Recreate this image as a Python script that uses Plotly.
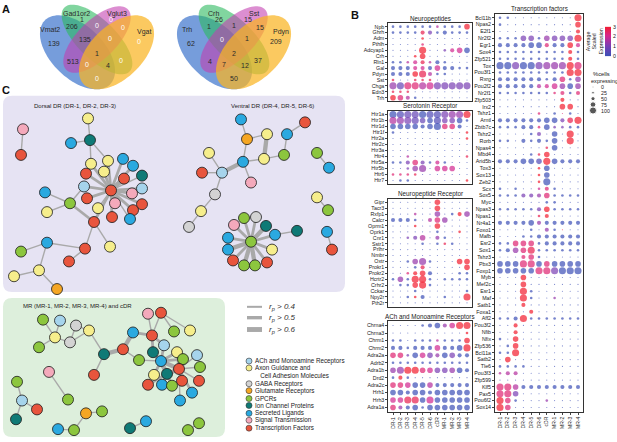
import numpy as np
import plotly.graph_objects as go

W, H = 617, 442
FONT = "Liberation Sans"

# ---------------- DATA ----------------
# Panel A: Venn counts (regions in order below)
venn_regions = ["A", "B", "C", "D", "AB", "CD", "BC", "ABC", "BCD", "ABCD", "AC", "ACD", "ABD", "BD", "AD"]
venn_left_sets = ["Vmat2", "Gad1or2", "Vglut3", "Vgat"]
venn_left_counts = [139, 1, 0, 0, 206, 0, 0, 135, 0, 1, 513, 0, 4, 0, 0]
venn_right_sets = ["Trh", "Crh", "Sst", "Pdyn"]
venn_right_counts = [62, 26, 15, 209, 1, 15, 1, 0, 1, 2, 4, 7, 12, 37, 50]

# Panel B: dot plots. pct digit 0-4 -> 0,25,50,75,100 %cells ; expr digit 0-9 -> 0..3 scaled expression
columns = ["DR-1", "DR-2", "DR-3", "DR-4", "DR-5", "DR-6", "cDR", "MR-1", "MR-2", "MR-3", "MR-4"]

neuropeptide_genes = ["Npb", "Ghrh", "Adm", "Pthlh", "Adcyap1", "Crh", "Rln1", "Gal", "Pdyn", "Sst", "Chga", "Edn3", "Trh"]
neuropeptide_pct = ["11111111113", "11112212111", "00001000000", "00001000000", "00004001233", "00013000000",
                    "11122121000", "22222232211", "22234211000", "10011100000", "44444444444", "11100000000",
                    "33210000000"]
neuropeptide_expr = ["00000050009", "00008300000", "00009000000", "00007000000", "00009003660", "00099000000",
                     "00568500000", "00066060000", "00098500000", "80088800000", "42775633333", "88800000000",
                     "97500000000"]

serotonin_genes = ["Htr1a", "Htr1b", "Htr1d", "Htr1f", "Htr2a", "Htr2c", "Htr3a", "Htr4", "Htr5a", "Htr5b", "Htr6", "Htr7"]
serotonin_pct = ["44444444444", "44443343331", "33332343320", "10000000001", "00000000001", "00000000000",
                 "00000000000", "00100000001", "11232121000", "00134033300", "11110000000", "01100000001"]
serotonin_expr = ["01220113449", "54322013300", "00000007700", "00000000009", "00000000009", "00000000000",
                  "00000000000", "00500000008", "00373060000", "00344066600", "77780000000", "00000000009"]

npr_genes = ["Gipr", "Tacr3", "Rxfp1", "Calcr", "Oprm1", "Oprk1", "Cnr1", "Sstr1", "Prlhr", "Nmbr", "Oxtr",
             "Prokr1", "Prokr2", "Hcrtr2", "Crhr2", "Cckar", "Npy2r", "Pth2r"]
npr_pct = ["00000030000", "00000030000", "00010030123", "22210233000", "00010030000", "00000010010",
           "00123021000", "00001011100", "00000000000", "00000000000", "00134100033", "00012000003",
           "00123200011", "13144101111", "01134100000", "00010000001", "00112001004", "00000000000"]
npr_expr = ["00000090000", "00000090000", "00050040094", "00000574000", "00090090000", "00000000090",
            "00335040000", "00000008000", "00000000000", "00000000000", "00044000099", "00008000009",
            "00799000000", "04099000000", "00099000000", "00000000000", "00090000009", "00000000000"]

ach_genes = ["Chrna4", "Chrna3", "Chrm1", "Chrm2", "Adra2a", "Adrb2", "Adra1b", "Drd2", "Adra2c", "Hrh1", "Hrh3", "Adra1a"]
ach_pct = ["00001232344", "00000000001", "11011111113", "22122232234", "33133323322", "11111111111",
           "34443333332", "12100000000", "33333322222", "33233233333", "33443433333", "32231333333"]
ach_expr = ["00000004699", "00000000009", "00000050009", "00000060009", "77306340300", "00000000000",
            "44997633400", "09000000000", "77600500000", "00000000000", "66880600000", "74000000000"]

tf_genes = ["Bcl11b", "Npas2", "E2f1", "Nr2f2", "Egr1", "Sox4", "Zfp521", "Tox", "Pou3f1", "Rxrg", "Pou2f2",
            "Nr2f1", "Zfp503", "Irx2", "Tshz1", "Arntl", "Zbtb7c", "Tshz2", "Rorb", "Npas4", "Mbd4", "Arid5b",
            "Tox3", "Sox13", "Zeb2", "Scx", "Sox5", "Myc", "Npas3", "Npas1", "Nr4a1", "Foxo1", "Mafb", "Esr2",
            "Sox1", "Tshz3", "Pbx3", "Foxp1", "Myb", "Mef2c", "Esr1", "Maf", "Satb1", "Foxa1", "Aff2", "Pou3f2",
            "Nfib", "Nfix", "Zfp536", "Bcl11a", "Satb2", "Tle6", "Pou3f3", "Zfp599", "Klf5", "Pax5", "Pou6f2", "Sox14"]
tf_pct = ["11000000004", "10000000003", "00000000002", "11133133334", "22223322232", "11111111121",
          "11111111121", "44444444444", "11111111144", "22222212313", "22222223333", "11111111212",
          "00000000200", "00000000330", "00000101010", "22222233234", "11122131111", "00001203040",
          "11021213040", "00000013000", "00001130000", "22233343222", "00000130000", "00000130000",
          "00000140000", "10100121000", "11122231111", "00000011000", "11111231111", "00000120000",
          "22223222222", "00001021000", "00011222222", "11333122222", "12334111111", "00023100000",
          "33344333333", "33333444444", "00030000000", "00030000000", "00041000000", "00041001000",
          "00020000000", "00002000000", "11241111111", "00200000000", "00200000000", "10300000000",
          "01300000000", "11400000000", "03000000000", "11110000000", "12200000000", "00000000000",
          "44322222222", "44300000000", "43100010000", "43000000000"]
tf_expr = ["00000000009", "00000000009", "00000000009", "00033043339", "00000070096", "00000000090",
           "00000000090", "00300344497", "00000000099", "00000000704", "00000566404", "00000007707",
           "00000000900", "00000000990", "00000700700", "00000000389", "00000703300", "00000300090",
           "00000000090", "00000080000", "00000890000", "00000190000", "00000900000", "00000900000",
           "00000900000", "00000670000", "00033470000", "00000000000", "00000390000", "00000890000",
           "00000400000", "00000040900", "00000000000", "00777000000", "00478000000", "00077000000",
           "00077070000", "00000773000", "00090000000", "00090000000", "00090000000", "00090004000",
           "00090000000", "00009000000", "00090000000", "00900000000", "00900000000", "00900000000",
           "00900000000", "00900000000", "09000000000", "00000000000", "55500000000", "00000000000",
           "77500000000", "77300000000", "97000040000", "97000000000"]

size_legend_values = [0, 25, 50, 75, 100]
colorbar_ticks = [0, 1, 2, 3]

# Panel C: category legend
categories = ["ACh and Monoamine Receptors", "Axon Guidance and<br>   Cell Adhesion Molecules", "GABA Receptors",
              "Glutamate Receptors", "GPCRs", "Ion Channel Proteins", "Secreted Ligands",
              "Signal Transmission", "Transcription Factors"]
category_keys = ["ach", "axon", "gaba", "glu", "gpcr", "ion", "sec", "sig", "tf"]
rp_labels = ["<i>r<sub>p</sub> > 0.4</i>", "<i>r<sub>p</sub> > 0.5</i>", "<i>r<sub>p</sub> > 0.6</i>"]

# Network layouts (node positions from layout, category, edges (i, j, correlation class 1..3))
dorsal_x = [23, 21, 88, 90, 71, 91, 108, 104, 123, 133, 142, 86, 84, 124, 111, 142, 132, 87, 115, 142, 133, 98,
            112, 130, 94, 70, 45, 47, 110, 85, 47, 21, 69, 14, 39, 57]
dorsal_y = [128, 154, 117, 139, 142, 163, 160, 171, 158, 165, 175, 173, 186, 178, 190, 188, 193, 198, 203, 204,
            210, 208, 217, 219, 222, 203, 192, 212, 247, 249, 243, 252, 262, 277, 271, 290]
dorsal_cat = ["sig", "tf", "axon", "ion", "sec", "axon", "axon", "axon", "sec", "sec", "ion", "tf", "ach", "tf",
              "tf", "ach", "sig", "tf", "sig", "tf", "tf", "axon", "tf", "sec", "tf", "gpcr", "sec", "axon",
              "axon", "tf", "sec", "gpcr", "tf", "axon", "axon", "glu"]
dorsal_edges = [(0, 1, 1), (2, 3, 1), (3, 4, 1), (3, 5, 1), (3, 6, 1), (5, 14, 2), (6, 14, 2), (7, 14, 2),
                (8, 14, 2), (9, 14, 2), (10, 14, 1), (11, 14, 2), (12, 14, 2), (13, 14, 3), (15, 14, 2),
                (16, 14, 2), (17, 14, 2), (18, 14, 3), (19, 14, 2), (20, 14, 2), (21, 14, 1), (22, 14, 2),
                (23, 14, 1), (24, 14, 2), (12, 25, 1), (25, 26, 1), (25, 27, 1), (25, 24, 2), (24, 28, 1),
                (24, 29, 1), (30, 29, 1), (30, 31, 1), (30, 34, 1), (34, 33, 1), (34, 35, 1), (29, 32, 1)]

ventral_x = [241, 247, 267, 264, 284, 243, 222, 202, 209, 251, 215, 201, 189, 305, 287, 317, 329, 317, 328, 297,
             327, 332, 251, 244, 256, 266, 234, 228, 228, 233, 272, 275, 244, 255, 267]
ventral_y = [118, 138, 133, 158, 154, 161, 172, 172, 152, 182, 194, 211, 227, 121, 133, 152, 167, 197, 210, 231,
             232, 250, 242, 218, 217, 226, 225, 238, 250, 261, 250, 235, 266, 266, 263]
ventral_cat = ["sec", "glu", "axon", "axon", "gpcr", "sec", "ach", "tf", "axon", "sig", "gaba", "axon", "gaba",
               "tf", "sec", "gpcr", "sec", "axon", "gpcr", "ion", "sec", "tf", "gpcr", "gpcr", "gaba", "ion",
               "sig", "sec", "sec", "tf", "axon", "sec", "gpcr", "gpcr", "tf"]
ventral_edges = [(0, 1, 1), (1, 2, 1), (2, 3, 3), (3, 4, 1), (1, 5, 1), (5, 3, 1), (5, 6, 3), (6, 7, 1),
                 (6, 8, 1), (5, 9, 1), (6, 10, 1), (10, 11, 1), (11, 12, 1), (13, 14, 1), (14, 4, 1),
                 (15, 16, 1), (17, 18, 1), (20, 21, 1), (19, 31, 1), (22, 23, 2), (22, 24, 2), (22, 25, 3),
                 (22, 26, 2), (22, 27, 2), (22, 28, 3), (22, 29, 2), (22, 30, 2), (22, 31, 2), (22, 32, 3),
                 (22, 33, 3), (22, 34, 2)]

mr_x = [43, 60, 76, 55, 70, 89, 39, 104, 94, 123, 133, 152, 148, 161, 174, 190, 153, 164, 177, 197, 139, 161,
        183, 200, 179, 154, 167, 182, 199, 148, 162, 172, 192, 180, 49, 68, 17, 22, 16, 37, 86, 102, 74, 58,
        130, 146, 199, 188]
mr_y = [321, 322, 327, 339, 344, 332, 349, 356, 377, 351, 334, 337, 315, 314, 333, 332, 354, 347, 354, 357, 362,
        363, 361, 369, 371, 377, 376, 383, 383, 387, 387, 388, 395, 403, 374, 402, 384, 403, 422, 412, 416, 414,
        433, 432, 431, 424, 426, 433]
mr_cat = ["gpcr", "ach", "gaba", "axon", "gaba", "axon", "gpcr", "ion", "tf", "tf", "sec", "tf", "sig", "tf",
          "gpcr", "axon", "ion", "ach", "axon", "ach", "gpcr", "sec", "gpcr", "gpcr", "tf", "axon", "ion", "tf",
          "tf", "tf", "sec", "gpcr", "sec", "sec", "sig", "gpcr", "gpcr", "ach", "ion", "tf", "glu", "gpcr",
          "gpcr", "sec", "ion", "sec", "gpcr", "gpcr"]
mr_edges = [(0, 3, 1), (1, 3, 1), (2, 4, 1), (3, 4, 1), (4, 5, 1), (2, 5, 1), (3, 6, 1), (5, 7, 1), (7, 8, 1),
            (7, 9, 3), (9, 10, 3), (9, 20, 1), (10, 11, 2), (11, 12, 1), (11, 13, 1), (11, 16, 2), (11, 17, 2),
            (13, 14, 1), (13, 15, 1), (16, 21, 2), (17, 21, 2), (18, 21, 2), (19, 24, 1), (20, 21, 1),
            (21, 22, 2), (21, 24, 3), (21, 25, 2), (21, 26, 3), (24, 26, 3), (24, 27, 2), (24, 28, 1),
            (24, 23, 1), (26, 29, 2), (26, 30, 2), (26, 31, 2), (24, 32, 2), (24, 33, 1), (16, 26, 2),
            (22, 24, 1), (18, 24, 2), (34, 35, 1), (36, 37, 1), (37, 38, 1), (37, 39, 1), (40, 41, 1),
            (40, 42, 1), (42, 43, 1), (44, 45, 1), (46, 47, 1)]

# ---------------- STYLE ----------------
cat_colors = {"ach": "#a6d4ec", "axon": "#f6ee8c", "gaba": "#d3d3d3", "glu": "#f5a623", "gpcr": "#8cc63e",
              "ion": "#0f7a76", "sec": "#2aa9e0", "sig": "#f4a9bb", "tf": "#e8553d"}
edge_widths = {1: 1.4, 2: 2.8, 3: 4.3}
expr_colorscale = [[0.0, "#3c4fb6"], [0.35, "#7c3db4"], [0.68, "#d5258d"], [1.0, "#f21d2e"]]
venn_fills = ["rgba(45,105,200,0.65)", "rgba(45,185,95,0.6)", "rgba(195,60,175,0.58)", "rgba(250,180,35,0.72)"]


def pct_to_px(p):
    return 1.1 + p / 100 * 6.0


fig = go.Figure()
shapes, annotations = [], []


def ov_text(x, y, text, size=6, color="#222", **kw):
    d = dict(x=x, y=y, xref="x", yref="y", text=text, showarrow=False,
             font=dict(size=size, color=color, family=FONT))
    d.update(kw)
    annotations.append(d)


# ---------- Panel C backgrounds ----------
def rrect(x0, y0, x1, y1, r):
    return (f"M {x0 + r},{y0} L {x1 - r},{y0} Q {x1},{y0} {x1},{y0 + r} L {x1},{y1 - r} Q {x1},{y1} {x1 - r},{y1} "
            f"L {x0 + r},{y1} Q {x0},{y1} {x0},{y1 - r} L {x0},{y0 + r} Q {x0},{y0} {x0 + r},{y0} Z")


shapes.append(dict(type="path", xref="x", yref="y", path=rrect(3, 94, 345, 293, 9),
                   fillcolor="#e6e3f3", line=dict(width=0), layer="below"))
shapes.append(dict(type="path", xref="x", yref="y", path=rrect(3, 299, 225, 440, 9),
                   fillcolor="#ddefdc", line=dict(width=0), layer="below"))


# ---------- Panel A: Venn ----------
def ellipse_path(cx, cy, a, b, ang_deg, n=90):
    t = np.linspace(0, 2 * np.pi, n)
    g = np.radians(ang_deg)
    x = cx + a * np.cos(t) * np.cos(g) - b * np.sin(t) * np.sin(g)
    y = cy + a * np.cos(t) * np.sin(g) + b * np.sin(t) * np.cos(g)
    return "M " + " L ".join(f"{xx:.2f},{yy:.2f}" for xx, yy in zip(x, y)) + " Z"


ell_geom = [(-19.5, 4.0, 46, 26.5, 45), (0, -9.0, 46, 19.5, 45), (0, -9.0, 43.5, 19.5, 135), (19.5, 4.0, 46, 26.5, 135)]
region_pos = {"A": (-43, -5), "B": (-15, -29), "C": (14, -29), "D": (42, -7), "AB": (-25, -22), "CD": (26, -21),
              "BC": (0, -23), "ABC": (-12, -9), "BCD": (13, -10), "ABCD": (0, 5), "AC": (-24, 13), "ACD": (-10, 16),
              "ABD": (11, 17), "BD": (24, 12), "AD": (0, 31)}
label_pos = [(-47, -19), (-21, -35), (20, -35), (47, -17)]


def draw_venn(cx, cy, sets, counts):
    for (dx, dy, a, b, g), fc in zip(ell_geom, venn_fills):
        shapes.append(dict(type="path", xref="x", yref="y", path=ellipse_path(cx + dx, cy + dy, a, b, g),
                           fillcolor=fc, line=dict(width=0), layer="below"))
    for reg, c in zip(venn_regions, counts):
        px, py = region_pos[reg]
        ov_text(cx + px, cy + py, str(c), size=7, color="#ffffff" if c == 0 else "#2a2a2a")
    for s, (px, py) in zip(sets, label_pos):
        ov_text(cx + px, cy + py, s, size=7, color="#2a2a2a")


draw_venn(97, 46, venn_left_sets, venn_left_counts)
draw_venn(234, 46, venn_right_sets, venn_right_counts)

# panel letters
for lt, x, y in [("A", 6, 6), ("B", 355, 12), ("C", 6, 88)]:
    ov_text(x, y, f"<b>{lt}</b>", size=11, color="#111")


# ---------- Networks ----------
def draw_network(xs, ys, cats, edges):
    for cls in (1, 2, 3):
        ex, ey = [], []
        for i, j, w in edges:
            if w == cls:
                ex += [xs[i], xs[j], None]
                ey += [ys[i], ys[j], None]
        if ex:
            fig.add_trace(go.Scatter(x=ex, y=ey, mode="lines", xaxis="x", yaxis="y", hoverinfo="skip",
                                     line=dict(color="#a9a9a9", width=edge_widths[cls]), showlegend=False))
    fig.add_trace(go.Scatter(x=xs, y=ys, mode="markers", xaxis="x", yaxis="y", showlegend=False,
                             marker=dict(size=11, color=[cat_colors[c] for c in cats],
                                         line=dict(color="#1a1a1a", width=0.8))))


draw_network(dorsal_x, dorsal_y, dorsal_cat, dorsal_edges)
draw_network(ventral_x, ventral_y, ventral_cat, ventral_edges)
draw_network(mr_x, mr_y, mr_cat, mr_edges)

ov_text(75, 104, "Dorsal DR (DR-1, DR-2, DR-3)", size=6)
ov_text(272, 104, "Ventral DR (DR-4, DR-5, DR-6)", size=6)
ov_text(77, 307, "MR (MR-1, MR-2, MR-3, MR-4) and cDR", size=6)

# r_p legend
rp_y = [308, 319, 331]
for lab, yy, cls in zip(rp_labels, rp_y, (1, 2, 3)):
    fig.add_trace(go.Scatter(x=[247, 262], y=[yy, yy], mode="lines", xaxis="x", yaxis="y", showlegend=False,
                             hoverinfo="skip", line=dict(color="#a9a9a9", width=edge_widths[cls] + 0.6)))
    ov_text(267, yy, lab, size=8, xanchor="left", color="#333")

# category legend
cat_y = [363, 370, 386, 393, 401, 408, 416, 423, 431]
fig.add_trace(go.Scatter(x=[249] * len(cat_y), y=cat_y, mode="markers", xaxis="x", yaxis="y", showlegend=False,
                         marker=dict(size=6, color=[cat_colors[k] for k in category_keys],
                                     line=dict(color="#333", width=0.6))))
for lab, yy in zip(categories, cat_y):
    ov_text(253, yy + (3.5 if "<br>" in lab else 0), lab, size=6.3, xanchor="left", align="left", color="#222")

# ---------- Panel B: dot plots ----------
panels = [
    ("Neuropeptides", neuropeptide_genes, neuropeptide_pct, neuropeptide_expr, (393, 467), (24, 96), False),
    ("Serotonin Receptor", serotonin_genes, serotonin_pct, serotonin_expr, (393, 467), (113, 180), False),
    ("Neuropeptide Receptor", npr_genes, npr_pct, npr_expr, (393, 467), (202, 304), False),
    ("ACh and Monoamine Receptors", ach_genes, ach_pct, ach_expr, (393, 467), (327, 410), True),
    ("Transcription factors", tf_genes, tf_pct, tf_expr, (500, 578), (15, 410), True),
]

layout_axes = {}
for k, (title, genes, pct, expr, (cx0, cx1), (ry0, ry1), show_x) in enumerate(panels):
    ax = k + 2
    n = len(genes)
    ncol = len(columns)
    dx = (cx1 - cx0) / (ncol - 1)
    dy = (ry1 - ry0) / (n - 1)
    padx, pady = 0.62, 0.62
    x0p, x1p = cx0 - padx * dx, cx1 + padx * dx
    y0p, y1p = ry0 - pady * dy, ry1 + pady * dy
    xs, ys, sz, cl = [], [], [], []
    for i, g in enumerate(genes):
        for j in range(ncol):
            xs.append(j)
            ys.append(i)
            sz.append(pct_to_px(int(pct[i][j]) * 25))
            cl.append(int(expr[i][j]) / 3.0)
    fig.add_trace(go.Scatter(x=xs, y=ys, mode="markers", xaxis=f"x{ax}", yaxis=f"y{ax}", showlegend=False,
                             marker=dict(size=sz, color=cl, cmin=0, cmax=3, colorscale=expr_colorscale,
                                         line=dict(width=0), showscale=False)))
    layout_axes[f"xaxis{ax}"] = dict(domain=[x0p / W, x1p / W], range=[-padx, ncol - 1 + padx], anchor=f"y{ax}",
                                     tickvals=list(range(ncol)), ticktext=columns, showticklabels=show_x,
                                     tickangle=-90, tickfont=dict(size=5, family=FONT, color="#222"),
                                     ticks="outside" if show_x else "", ticklen=2, tickwidth=0.6,
                                     showline=True, mirror=True, linecolor="#333", linewidth=1.1,
                                     showgrid=False, zeroline=False, fixedrange=True)
    layout_axes[f"yaxis{ax}"] = dict(domain=[1 - y1p / H, 1 - y0p / H], range=[n - 1 + pady, -pady],
                                     anchor=f"x{ax}", tickvals=list(range(n)), ticktext=genes,
                                     tickfont=dict(size=5.3, family=FONT, color="#222"), ticks="outside",
                                     ticklen=2, tickwidth=0.6, showline=True, mirror=True, linecolor="#333",
                                     linewidth=1.1, showgrid=False, zeroline=False, fixedrange=True)
    ov_text((x0p + x1p) / 2, y0p - 4.5, title, size=6.3, color="#222")

# colour scale legend (gradient strip on its own small axis, same colour mapping as the dots)
grad = np.linspace(0, 3, 60)
fig.add_trace(go.Heatmap(z=grad.reshape(-1, 1), x=[0], y=grad, xaxis="x7", yaxis="y7", colorscale=expr_colorscale,
                         zmin=0, zmax=3, showscale=False, hoverinfo="skip"))
layout_axes["xaxis7"] = dict(domain=[605 / W, 611 / W], anchor="y7", visible=False, fixedrange=True)
layout_axes["yaxis7"] = dict(domain=[1 - 54 / H, 1 - 24 / H], anchor="x7", side="right", range=[0, 3],
                             tickvals=colorbar_ticks, ticks="", showline=False, showgrid=False, zeroline=False,
                             tickfont=dict(size=5.3, family=FONT, color="#222"), ticklabelstandoff=1,
                             fixedrange=True)

# size legend
leg_y = [85, 91, 97, 103, 109]
fig.add_trace(go.Scatter(x=[593] * len(leg_y), y=leg_y, mode="markers", xaxis="x", yaxis="y", showlegend=False,
                         marker=dict(size=[pct_to_px(v) for v in size_legend_values], color="#111")))
for v, yy in zip(size_legend_values, leg_y):
    ov_text(599, yy, str(v), size=5.3, xanchor="left")
ov_text(591, 72, "%cells", size=5.8, xanchor="left")
ov_text(589, 79, "expressing", size=5.6, xanchor="left")
ov_text(595, 39, "Average<br>Scaled<br>Expression", size=5.3, textangle=-90)

fig.update_layout(
    width=W, height=H, autosize=False, margin=dict(l=0, r=0, t=0, b=0),
    paper_bgcolor="white", plot_bgcolor="rgba(0,0,0,0)",
    xaxis=dict(domain=[0, 1], range=[0, W], visible=False, fixedrange=True),
    yaxis=dict(domain=[0, 1], range=[H, 0], visible=False, fixedrange=True),
    shapes=shapes, annotations=annotations, font=dict(family=FONT),
    **layout_axes,
)

# remove the browser's default 8px page margin and hide the mode bar
fig.write_html("out.html", config={"displayModeBar": False},
               post_script="document.body.style.margin='0px';document.body.style.padding='0px';")
